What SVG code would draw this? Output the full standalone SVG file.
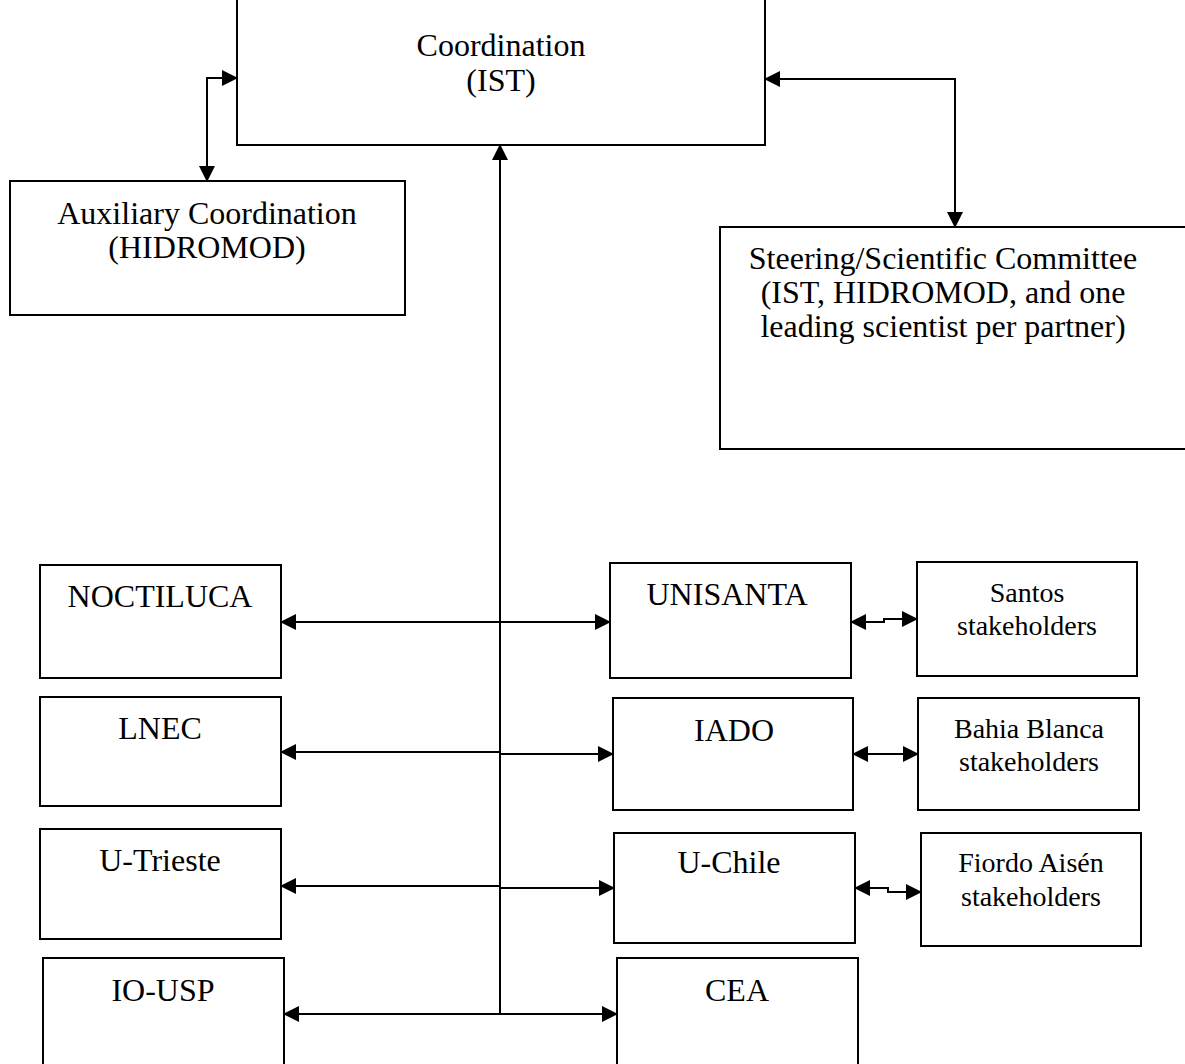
<svg xmlns="http://www.w3.org/2000/svg" width="1185" height="1064" viewBox="0 0 1185 1064">
<style>
.box{fill:#fff;stroke:#000;stroke-width:2}
.t{font-family:"Liberation Serif","Times New Roman",serif;font-size:32px;fill:#000;text-anchor:middle}
.s{font-family:"Liberation Serif","Times New Roman",serif;font-size:28px;fill:#000;text-anchor:middle}
.c{fill:none;stroke:#000;stroke-width:2}
</style>
<defs>
<marker id="ah" markerUnits="userSpaceOnUse" markerWidth="16" markerHeight="16" viewBox="0 0 16 16" refX="15" refY="8" orient="auto-start-reverse">
<path d="M0,0 L16,8 L0,16 Z" fill="#000"/>
</marker>
</defs>
<rect width="1185" height="1064" fill="#fff"/>
<g id="coordination"><rect class="box" x="237" y="-5" width="528" height="150"/><text class="t" x="501" y="56">Coordination</text><text class="t" x="501" y="91">(IST)</text></g>
<g id="auxiliary"><rect class="box" x="10" y="181" width="395" height="134"/><text class="t" x="207" y="224">Auxiliary Coordination</text><text class="t" x="207" y="258">(HIDROMOD)</text></g>
<g id="steering"><rect class="box" x="720" y="227" width="475" height="222"/><text class="t" x="943" y="269">Steering/Scientific Committee</text><text class="t" x="943" y="303">(IST, HIDROMOD, and one</text><text class="t" x="943" y="337">leading scientist per partner)</text></g>
<g id="noctiluca"><rect class="box" x="40" y="565" width="241" height="113"/><text class="t" x="160" y="607">NOCTILUCA</text></g>
<g id="unisanta"><rect class="box" x="610" y="563" width="241" height="115"/><text class="t" x="727" y="605">UNISANTA</text></g>
<g id="santos"><rect class="box" x="917" y="562" width="220" height="114"/><text class="s" x="1027" y="602">Santos</text><text class="s" x="1027" y="635">stakeholders</text></g>
<g id="lnec"><rect class="box" x="40" y="697" width="241" height="109"/><text class="t" x="160" y="739">LNEC</text></g>
<g id="iado"><rect class="box" x="613" y="698" width="240" height="112"/><text class="t" x="734" y="741">IADO</text></g>
<g id="bahia"><rect class="box" x="918" y="698" width="221" height="112"/><text class="s" x="1029" y="738">Bahia Blanca</text><text class="s" x="1029" y="771">stakeholders</text></g>
<g id="utrieste"><rect class="box" x="40" y="829" width="241" height="110"/><text class="t" x="160" y="871">U-Trieste</text></g>
<g id="uchile"><rect class="box" x="614" y="833" width="241" height="110"/><text class="t" x="729" y="873">U-Chile</text></g>
<g id="fiordo"><rect class="box" x="921" y="833" width="220" height="113"/><text class="s" x="1031" y="872">Fiordo Aisén</text><text class="s" x="1031" y="906">stakeholders</text></g>
<g id="iousp"><rect class="box" x="43" y="958" width="241" height="120"/><text class="t" x="163" y="1001">IO-USP</text></g>
<g id="cea"><rect class="box" x="617" y="958" width="241" height="120"/><text class="t" x="737" y="1001">CEA</text></g>
<g id="connectors">
<path class="c" d="M237,78 H207 V181" marker-start="url(#ah)" marker-end="url(#ah)"/>
<path class="c" d="M765,79 H955 V227" marker-start="url(#ah)" marker-end="url(#ah)"/>
<path class="c" d="M500,1014 V145" marker-end="url(#ah)"/>
<path class="c" d="M281,622 H610" marker-start="url(#ah)" marker-end="url(#ah)"/>
<path class="c" d="M281,752 H500 V754 H613" marker-start="url(#ah)" marker-end="url(#ah)"/>
<path class="c" d="M281,886 H500 V888 H614" marker-start="url(#ah)" marker-end="url(#ah)"/>
<path class="c" d="M284,1014 H617" marker-start="url(#ah)" marker-end="url(#ah)"/>
<path class="c" d="M851,622 H884 V619 H917" marker-start="url(#ah)" marker-end="url(#ah)"/>
<path class="c" d="M853,754 H918" marker-start="url(#ah)" marker-end="url(#ah)"/>
<path class="c" d="M855,888 H888 V892 H921" marker-start="url(#ah)" marker-end="url(#ah)"/>
</g>
</svg>
